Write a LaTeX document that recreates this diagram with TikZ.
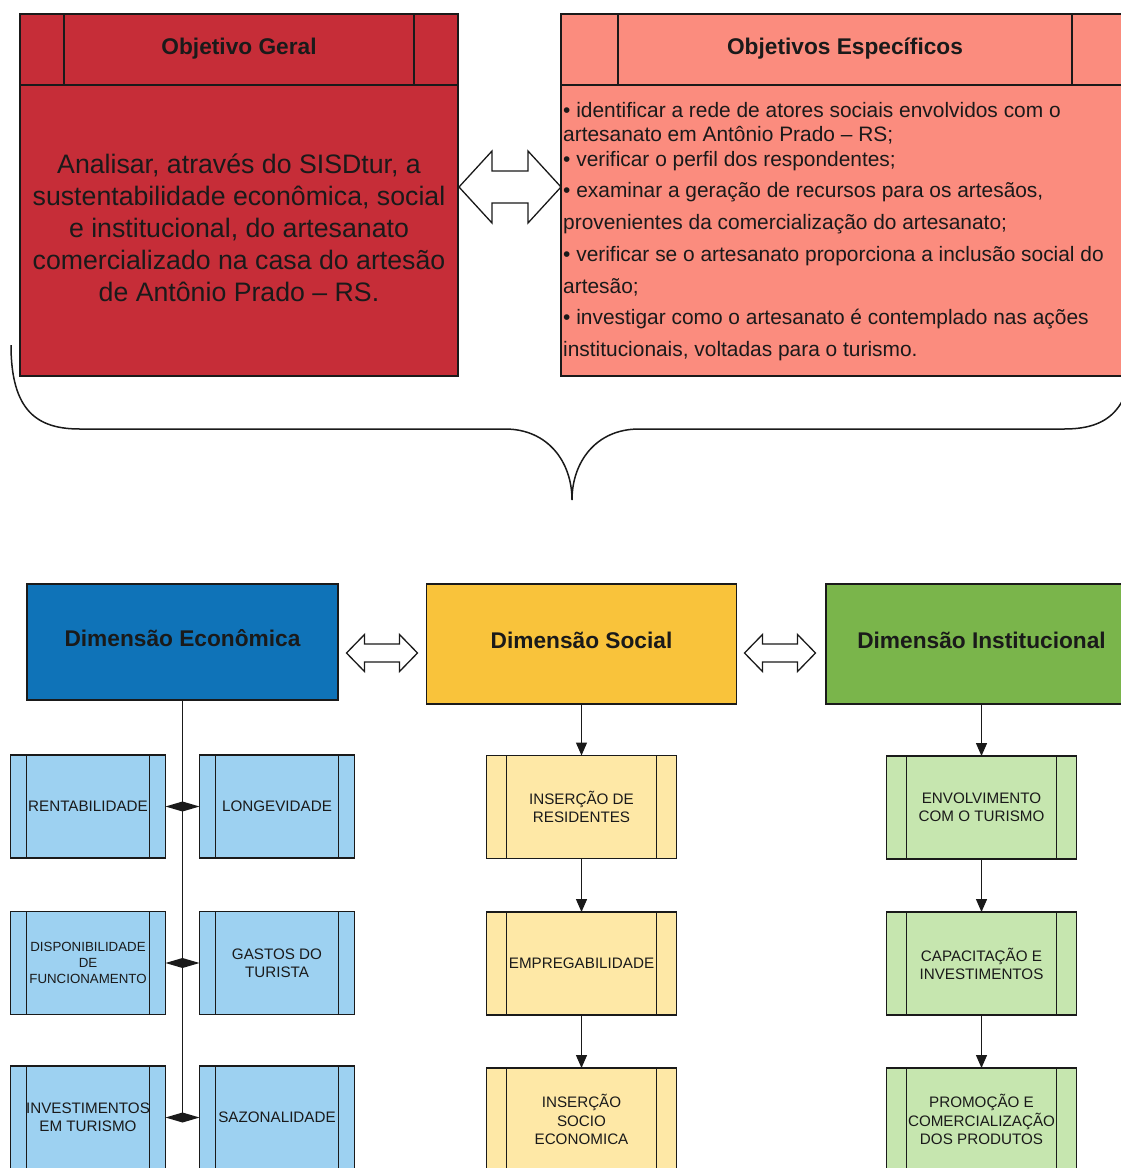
\documentclass[tikz,border=0pt]{standalone}
\usepackage{fontspec}
\setmainfont{Liberation Sans}
\usetikzlibrary{arrows.meta,calc}
\definecolor{ogred}{HTML}{C62D38}
\definecolor{oesalmon}{HTML}{FB8C7E}
\definecolor{ecoblue}{HTML}{0F73B8}
\definecolor{socyel}{HTML}{F9C33B}
\definecolor{insgreen}{HTML}{7AB54B}
\definecolor{lblue}{HTML}{9DD1F1}
\definecolor{lyel}{HTML}{FEE8A6}
\definecolor{lgreen}{HTML}{C6E6AF}
\definecolor{ink}{HTML}{1A1A1A}
\newcommand{\fxBody}{\fontsize{26.7pt}{32pt}\selectfont}
\newcommand{\fxHead}{\bfseries\fontsize{22.7pt}{27pt}\selectfont}
\newcommand{\fxList}{\fontsize{20.9pt}{25pt}\selectfont}
\newcommand{\fxSmall}{\fontsize{15.2pt}{18.2pt}\selectfont}
\newcommand{\fxTiny}{\fontsize{13.3pt}{16pt}\selectfont}
\newcommand{\hollowdarrow}[5]{%
  \draw[blockar, shift={#1}] (-#2,0) -- (-#2+#3,-#4) -- (-#2+#3,-#5) -- (#2-#3,-#5) -- (#2-#3,-#4) -- (#2,0) -- (#2-#3,#4) -- (#2-#3,#5) -- (-#2+#3,#5) -- (-#2+#3,#4) -- cycle;}
\newcommand{\diaconn}[2]{%
  \fill[ink] (#1.east) -- ($(#1.east)!0.5!(#2.west)+(0,-5)$) -- (#2.west) -- ($(#1.east)!0.5!(#2.west)+(0,5)$) -- cycle;}
\begin{document}
\begin{tikzpicture}[x=1pt,y=-1pt,
  box/.style={draw=ink, line width=1.4pt, inner sep=0pt, outer sep=0pt},
  hdrline/.style={draw=ink, line width=1.4pt},
  proc/.style={box, path picture={\draw[ink,line width=1.4pt] ([xshift=#1]path picture bounding box.north west) -- ([xshift=#1]path picture bounding box.south west) ([xshift=-#1]path picture bounding box.north east) -- ([xshift=-#1]path picture bounding box.south east);}},
  ebox/.style={proc=16pt, fill=lblue, minimum width=155pt, minimum height=103pt, font=\fxSmall, align=center, text=ink},
  sbox/.style={proc=20pt, fill=lyel, minimum width=190pt, minimum height=103pt, font=\fxSmall, align=center, text=ink},
  ibox/.style={proc=20pt, fill=lgreen, minimum width=190pt, minimum height=103pt, font=\fxSmall, align=center, text=ink},
  dim/.style={box, font=\fxHead, text=ink, text depth=7pt},
  listline/.style={anchor=base west, font=\fxList, text=ink, inner sep=0pt},
  arr/.style={draw=ink, line width=1.3pt, -{Triangle[length=13pt,width=11pt]}},
  trunk/.style={draw=ink, line width=1.3pt},
  blockar/.style={draw=ink, line width=1.3pt, fill=white, line join=miter},
  bracel/.style={draw=ink, line width=1.5pt}
]
\useasboundingbox (0,0) rectangle (1121,1168);
\clip (0,0) rectangle (1121,1168);
\fill[white] (0,0) rectangle (1121,1168);

% ---- Objetivo Geral
\node[box, fill=ogred, minimum width=438pt, minimum height=362pt] (og) at (239,195) {};
\draw[hdrline] ([yshift=-71pt]og.north west) -- ([yshift=-71pt]og.north east);
\draw[hdrline] ([xshift=44pt]og.north west) -- ([xshift=44pt,yshift=-71pt]og.north west);
\draw[hdrline] ([xshift=-44pt]og.north east) -- ([xshift=-44pt,yshift=-71pt]og.north east);
\node[font=\fxHead, text=ink] (ogh) at (239,49) {Objetivo Geral};
\node[font=\fxBody, text=ink, align=center] (ogb) at (239,228) {Analisar, através do SISDtur, a\\sustentabilidade econômica, social\\e institucional, do artesanato\\comercializado na casa do artesão\\de Antônio Prado – RS.};

% ---- Objetivos Especificos
\node[box, fill=oesalmon, minimum width=568pt, minimum height=362pt] (oe) at (845,195) {};
\draw[hdrline] ([yshift=-71pt]oe.north west) -- ([yshift=-71pt]oe.north east);
\draw[hdrline] ([xshift=57pt]oe.north west) -- ([xshift=57pt,yshift=-71pt]oe.north west);
\draw[hdrline] ([xshift=-57pt]oe.north east) -- ([xshift=-57pt,yshift=-71pt]oe.north east);
\node[font=\fxHead, text=ink] (oeh) at (845,49) {Objetivos Específicos};
\node[listline] (t1) at (563,117) {• identificar a rede de atores sociais envolvidos com o};
\node[listline] (t2) at (563,141) {artesanato em Antônio Prado – RS;};
\node[listline] (t3) at (563,166) {• verificar o perfil dos respondentes;};
\node[listline] (t4) at (563,197) {• examinar a geração de recursos para os artesãos,};
\node[listline] (t5) at (563,229) {provenientes da comercialização do artesanato;};
\node[listline] (t6) at (563,261) {• verificar se o artesanato proporciona a inclusão social do};
\node[listline] (t7) at (563,293) {artesão;};
\node[listline] (t8) at (563,324) {• investigar como o artesanato é contemplado nas ações};
\node[listline] (t9) at (563,356) {institucionais, voltadas para o turismo.};

\hollowdarrow{(510,187)}{51}{33}{36}{16}

% ---- brace
\draw[bracel] (11,345) .. controls (11,412) and (38,429) .. (80,429) -- (505,429)
  .. controls (548,429) and (572,462) .. (572,500)
  .. controls (572,462) and (596,429) .. (639,429) -- (1064,429)
  .. controls (1106,429) and (1133,412) .. (1133,345);

% ---- dimensions
\node[dim, fill=ecoblue, minimum width=311pt, minimum height=116pt] (eco) at (182.5,642) {Dimensão Econômica};
\node[dim, fill=socyel, minimum width=310pt, minimum height=120pt] (soc) at (581.5,644) {Dimensão Social};
\node[dim, fill=insgreen, minimum width=311pt, minimum height=120pt] (ins) at (981.5,644) {Dimensão Institucional};
\hollowdarrow{(382,653)}{35.5}{18}{18.5}{9}
\hollowdarrow{(780,653)}{35.5}{18}{18.5}{9}

% ---- economic column
\node[ebox] (e1l) at (88,806.5) {RENTABILIDADE};
\node[ebox] (e1r) at (277,806.5) {LONGEVIDADE};
\node[ebox, font=\fxTiny] (e2l) at (88,963) {DISPONIBILIDADE\\DE\\FUNCIONAMENTO};
\node[ebox] (e2r) at (277,963) {GASTOS DO\\TURISTA};
\node[ebox] (e3l) at (88,1117.5) {INVESTIMENTOS\\EM TURISMO};
\node[ebox] (e3r) at (277,1117.5) {SAZONALIDADE};
\coordinate (trunkend) at (182.5,1117.5);
\draw[trunk] (eco.south) -- (trunkend);
\diaconn{e1l}{e1r}
\diaconn{e2l}{e2r}
\diaconn{e3l}{e3r}

% ---- social column
\node[sbox] (s1) at (581.5,807) {INSERÇÃO DE\\RESIDENTES};
\node[sbox] (s2) at (581.5,963.5) {EMPREGABILIDADE};
\node[sbox] (s3) at (581.5,1119.5) {INSERÇÃO\\SOCIO\\ECONOMICA};
\draw[arr] (soc.south) -- (s1.north);
\draw[arr] (s1.south) -- (s2.north);
\draw[arr] (s2.south) -- (s3.north);

% ---- institutional column
\node[ibox] (i1) at (981.5,807.5) {ENVOLVIMENTO\\COM O TURISMO};
\node[ibox] (i2) at (981.5,963.5) {CAPACITAÇÃO E\\INVESTIMENTOS};
\node[ibox] (i3) at (981.5,1119.5) {PROMOÇÃO E\\COMERCIALIZAÇÃO\\DOS PRODUTOS};
\draw[arr] (ins.south) -- (i1.north);
\draw[arr] (i1.south) -- (i2.north);
\draw[arr] (i2.south) -- (i3.north);
\end{tikzpicture}
\end{document}
